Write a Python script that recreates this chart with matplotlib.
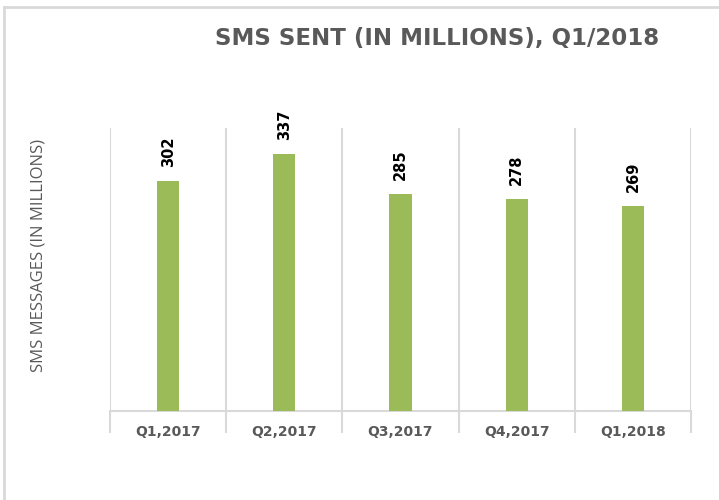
import numpy as np
import matplotlib as mpl
mpl.use('Agg')
from matplotlib import pyplot as plt
from matplotlib.lines import Line2D

#%% Data

quarters = ['Q1,2017', 'Q2,2017', 'Q3,2017', 'Q4,2017', 'Q1,2018']
sms_sent = [302, 337, 285, 278, 269]

#%% Style

plt.rcParams['font.family'] = ['Open Sans', 'DejaVu Sans']
grey = '#595959'
light = '#d9d9d9'
green = '#9bbb59'

fig = plt.figure(figsize=(7.19, 5.0), dpi=100)
ax = fig.add_axes([110/719, 1-411/500, (691-110)/719, (411-128)/500])

x = np.arange(len(quarters))
bars = ax.bar(x, sms_sent, width=0.19, color=green, zorder=3)

for xi, v in zip(x, sms_sent):
    ax.annotate(str(v), (xi, v), xytext=(0, 10), textcoords='offset points',
                rotation=90, ha='center', va='bottom', fontsize=10.5,
                fontweight='bold', color='black', family='DejaVu Sans')

ax.set_xlim(-0.5, len(quarters)-0.5)
ax.set_ylim(0, 371)

# boundaries between categories: gridlines + long ticks
ax.set_xticks(np.arange(len(quarters)+1)-0.5)
ax.set_xticklabels([])
ax.tick_params(axis='x', which='major', length=16, width=1.5, color=light)
ax.set_xticks(x, minor=True)
ax.set_xticklabels(quarters, minor=True, fontsize=10, fontweight='bold',
                   color=grey, family='DejaVu Sans')
ax.tick_params(axis='x', which='minor', length=0, pad=10)
ax.grid(axis='x', which='major', color=light, linewidth=1.5, zorder=0)
ax.set_yticks([])

for s in ['top', 'right', 'left']:
    ax.spines[s].set_visible(False)
ax.spines['bottom'].set_color(light)
ax.spines['bottom'].set_linewidth(1.5)

fig.text(39/719, 1-255/500, 'SMS MESSAGES (IN MILLIONS)', rotation=90,
         ha='center', va='center', fontsize=12, color=grey)
fig.text(437/719, 1-38/500, 'SMS SENT (IN MILLIONS), Q1/2018', ha='center',
         va='center', fontsize=16.5, fontweight='bold', color=grey,
         family='DejaVu Sans')

# outer chart border (cropped)
fig.add_artist(Line2D([4/719, 1], [1-6.5/500, 1-6.5/500], color=light, lw=2))
fig.add_artist(Line2D([4/719, 4/719], [0, 1-6.5/500], color=light, lw=2))

plt.savefig('out.png', dpi=100)
